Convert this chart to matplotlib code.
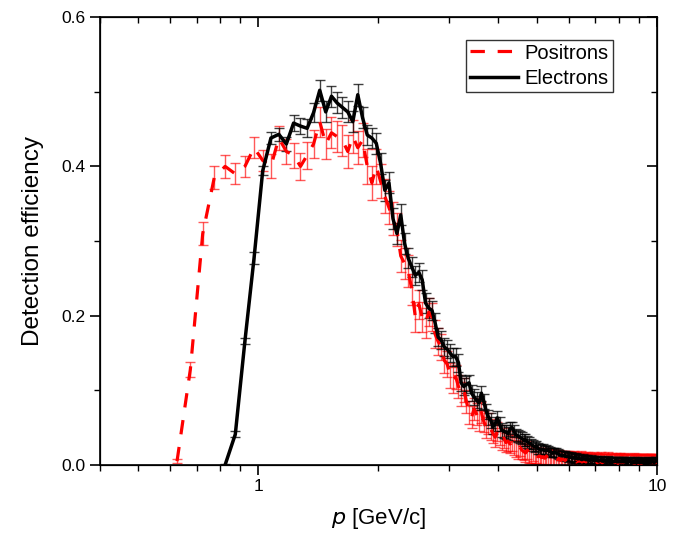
import numpy as np
import matplotlib
matplotlib.use('Agg')
import matplotlib.pyplot as plt
from matplotlib.ticker import FixedLocator, NullFormatter, MultipleLocator, LogLocator

plt.rcParams['font.family'] = ['Liberation Sans', 'DejaVu Sans']

# Binning en impulsion (largeur 0.05 GeV/c)
p_bin = 0.05
p0_pos = 0.625   # premier centre de bin, positrons
p0_ele = 0.825   # premier centre de bin, electrons

# Efficacite positrons
eff_pos = [0.005, 0.128, 0.310, 0.385, 0.400, 0.390, 0.400, 0.425, 0.408, 0.400,
           0.438, 0.420, 0.415, 0.400, 0.415, 0.430, 0.460, 0.430, 0.445, 0.440,
           0.435, 0.420, 0.440, 0.425, 0.435, 0.400, 0.378, 0.400, 0.380, 0.360,
           0.345, 0.330, 0.315, 0.280, 0.270, 0.260, 0.235, 0.198, 0.215, 0.198,
           0.190, 0.205, 0.198, 0.175, 0.165, 0.158, 0.140, 0.135, 0.120, 0.114,
           0.118, 0.105, 0.095, 0.100, 0.085, 0.070, 0.064, 0.075, 0.068, 0.060,
           0.070, 0.058, 0.050, 0.055, 0.048, 0.042, 0.037, 0.045, 0.040, 0.033,
           0.036, 0.030, 0.032, 0.028, 0.030, 0.025, 0.022, 0.020, 0.024, 0.020,
           0.018, 0.016, 0.020, 0.015, 0.014, 0.016, 0.012, 0.013, 0.011, 0.012,
           0.010, 0.011, 0.009, 0.012, 0.008, 0.010, 0.009, 0.007, 0.010, 0.008,
           0.007, 0.009, 0.006, 0.008, 0.007, 0.006, 0.008, 0.005, 0.007, 0.006,
           0.005, 0.007, 0.006, 0.004, 0.006, 0.005, 0.007, 0.004, 0.005, 0.006,
           0.004, 0.005, 0.006, 0.003, 0.005, 0.004, 0.006, 0.004, 0.005, 0.003,
           0.005, 0.004, 0.006, 0.003, 0.004, 0.005, 0.003, 0.004, 0.006, 0.003,
           0.004, 0.003, 0.005, 0.004, 0.003, 0.005, 0.004, 0.002, 0.004, 0.005,
           0.003, 0.004, 0.003, 0.005, 0.002, 0.004, 0.003, 0.004, 0.002, 0.003,
           0.004, 0.003, 0.005, 0.002, 0.003, 0.004, 0.003, 0.002, 0.004, 0.003,
           0.002, 0.004, 0.003, 0.003, 0.002, 0.004, 0.003, 0.002, 0.003, 0.004,
           0.002, 0.003, 0.003, 0.002, 0.004, 0.002, 0.003, 0.002]
err_pos = [0.003, 0.010, 0.015, 0.015, 0.015, 0.014, 0.014, 0.014, 0.014, 0.016,
           0.016, 0.017, 0.017, 0.018, 0.018, 0.019, 0.020, 0.020, 0.021, 0.021,
           0.021, 0.022, 0.022, 0.022, 0.023, 0.023, 0.023, 0.023, 0.023, 0.023,
           0.022, 0.022, 0.022, 0.022, 0.021, 0.021, 0.021, 0.020, 0.020, 0.020,
           0.020, 0.019, 0.019, 0.019, 0.018, 0.018, 0.017, 0.017, 0.017, 0.017,
           0.016, 0.016, 0.016, 0.016, 0.015, 0.015, 0.015, 0.015, 0.015, 0.014,
           0.014, 0.014, 0.014, 0.014, 0.014, 0.013, 0.013, 0.013, 0.013, 0.013,
           0.013, 0.013, 0.013, 0.012, 0.012, 0.012, 0.012, 0.012, 0.012, 0.012,
           0.012, 0.012, 0.012, 0.012, 0.012, 0.011, 0.011, 0.011, 0.011, 0.011,
           0.011, 0.011, 0.011, 0.011, 0.011, 0.011, 0.011, 0.011, 0.011, 0.011,
           0.011, 0.011, 0.011, 0.011, 0.011, 0.011, 0.011, 0.011, 0.011, 0.011,
           0.011, 0.011, 0.011, 0.011, 0.011, 0.011, 0.011, 0.011, 0.011, 0.011,
           0.011, 0.011, 0.011, 0.011, 0.011, 0.011, 0.011, 0.011, 0.011, 0.011,
           0.011, 0.011, 0.011, 0.011, 0.011, 0.011, 0.011, 0.011, 0.011, 0.011,
           0.011, 0.011, 0.011, 0.011, 0.011, 0.011, 0.011, 0.011, 0.011, 0.011,
           0.011, 0.011, 0.011, 0.011, 0.011, 0.011, 0.011, 0.011, 0.011, 0.011,
           0.011, 0.011, 0.011, 0.011, 0.011, 0.011, 0.011, 0.011, 0.011, 0.011,
           0.011, 0.011, 0.011, 0.011, 0.011, 0.011, 0.011, 0.011, 0.011, 0.011,
           0.011, 0.011, 0.011, 0.011, 0.011, 0.011, 0.011, 0.011]

# Efficacite electrons
eff_ele = [0.000, 0.041, 0.166, 0.277, 0.394, 0.438, 0.443, 0.430, 0.458, 0.454,
           0.451, 0.472, 0.502, 0.473, 0.494, 0.485, 0.479, 0.473, 0.460, 0.496,
           0.465, 0.442, 0.438, 0.431, 0.404, 0.368, 0.378, 0.330, 0.310, 0.335,
           0.297, 0.277, 0.265, 0.254, 0.258, 0.248, 0.217, 0.210, 0.207, 0.190,
           0.171, 0.167, 0.158, 0.155, 0.150, 0.145, 0.145, 0.137, 0.110, 0.105,
           0.108, 0.110, 0.096, 0.091, 0.087, 0.083, 0.096, 0.085, 0.072, 0.064,
           0.060, 0.051, 0.055, 0.063, 0.055, 0.047, 0.045, 0.044, 0.042, 0.048,
           0.050, 0.045, 0.040, 0.039, 0.037, 0.036, 0.033, 0.034, 0.031, 0.029,
           0.028, 0.026, 0.024, 0.025, 0.022, 0.021, 0.020, 0.021, 0.019, 0.020,
           0.020, 0.018, 0.017, 0.016, 0.017, 0.016, 0.015, 0.014, 0.013, 0.013,
           0.012, 0.013, 0.011, 0.011, 0.010, 0.011, 0.009, 0.010, 0.009, 0.010,
           0.008, 0.009, 0.008, 0.007, 0.009, 0.008, 0.007, 0.008, 0.007, 0.006,
           0.008, 0.007, 0.006, 0.007, 0.006, 0.007, 0.005, 0.006, 0.007, 0.005,
           0.006, 0.005, 0.006, 0.005, 0.007, 0.005, 0.004, 0.006, 0.005, 0.004,
           0.005, 0.006, 0.004, 0.005, 0.004, 0.005, 0.004, 0.006, 0.004, 0.005,
           0.004, 0.005, 0.003, 0.004, 0.005, 0.004, 0.003, 0.004, 0.005, 0.003,
           0.004, 0.003, 0.005, 0.004, 0.003, 0.004, 0.003, 0.005, 0.004, 0.003,
           0.004, 0.003, 0.004, 0.005, 0.003, 0.004, 0.003, 0.004, 0.005, 0.004,
           0.003, 0.004, 0.005, 0.006]
err_ele = [0.001, 0.004, 0.004, 0.008, 0.006, 0.008, 0.009, 0.010, 0.011, 0.011,
           0.012, 0.013, 0.014, 0.014, 0.014, 0.014, 0.014, 0.014, 0.014, 0.015,
           0.014, 0.014, 0.014, 0.014, 0.014, 0.014, 0.014, 0.014, 0.014, 0.014,
           0.014, 0.013, 0.013, 0.013, 0.013, 0.013, 0.013, 0.013, 0.013, 0.013,
           0.012, 0.012, 0.012, 0.012, 0.012, 0.012, 0.012, 0.012, 0.011, 0.011,
           0.011, 0.011, 0.011, 0.011, 0.011, 0.010, 0.010, 0.010, 0.010, 0.010,
           0.010, 0.009, 0.009, 0.009, 0.009, 0.009, 0.009, 0.009, 0.009, 0.009,
           0.008, 0.008, 0.008, 0.008, 0.008, 0.008, 0.008, 0.008, 0.008, 0.008,
           0.007, 0.007, 0.007, 0.007, 0.007, 0.007, 0.007, 0.007, 0.007, 0.007,
           0.006, 0.006, 0.006, 0.006, 0.006, 0.006, 0.006, 0.006, 0.006, 0.006,
           0.006, 0.006, 0.006, 0.006, 0.006, 0.006, 0.006, 0.006, 0.006, 0.006,
           0.005, 0.005, 0.005, 0.005, 0.005, 0.005, 0.005, 0.005, 0.005, 0.005,
           0.005, 0.005, 0.005, 0.005, 0.005, 0.005, 0.005, 0.005, 0.005, 0.005,
           0.005, 0.005, 0.005, 0.005, 0.005, 0.005, 0.005, 0.005, 0.005, 0.005,
           0.005, 0.005, 0.005, 0.005, 0.005, 0.005, 0.005, 0.005, 0.005, 0.005,
           0.005, 0.005, 0.005, 0.005, 0.005, 0.005, 0.005, 0.005, 0.005, 0.005,
           0.005, 0.005, 0.005, 0.005, 0.005, 0.005, 0.005, 0.005, 0.005, 0.005,
           0.005, 0.005, 0.005, 0.005, 0.005, 0.005, 0.005, 0.005, 0.005, 0.005,
           0.005, 0.005, 0.005, 0.005]

p_pos = p0_pos + p_bin * np.arange(len(eff_pos))
p_ele = p0_ele + p_bin * np.arange(len(eff_ele))

fig = plt.figure(figsize=(6.74, 5.35), dpi=100)
ax = fig.add_axes([0.148, 0.131, 0.827, 0.837])

# Barres d'erreur
ax.errorbar(p_pos, eff_pos, yerr=err_pos, fmt='none', ecolor='red', alpha=0.65,
            elinewidth=1.0, capsize=3.5, capthick=1.0, zorder=2)
ax.errorbar(p_ele, eff_ele, yerr=err_ele, fmt='none', ecolor='black', alpha=0.75,
            elinewidth=1.0, capsize=3.5, capthick=1.0, zorder=3)
# Courbes
ax.plot(p_pos, eff_pos, color='red', lw=2.3, linestyle=(0, (4.5, 4)), label='Positrons', zorder=4)
ax.plot(p_ele, eff_ele, color='black', lw=2.5, label='Electrons', zorder=5)

ax.set_xscale('log')
ax.set_xlim(0.4, 10)
ax.set_ylim(0, 0.6)
ax.xaxis.set_major_locator(FixedLocator([1, 10]))
ax.xaxis.set_major_formatter(matplotlib.ticker.FixedFormatter(['1', '10']))
ax.xaxis.set_minor_locator(LogLocator(base=10, subs=np.arange(2, 10)))
ax.xaxis.set_minor_formatter(NullFormatter())
ax.yaxis.set_major_locator(MultipleLocator(0.2))
ax.yaxis.set_minor_locator(MultipleLocator(0.1))
ax.yaxis.set_major_formatter(matplotlib.ticker.FormatStrFormatter('%.1f'))
ax.tick_params(which='major', direction='out', length=7, width=1.2, labelsize=12.5)
ax.tick_params(which='minor', direction='out', length=4, width=1.0)
for s in ax.spines.values():
    s.set_linewidth(1.2)

# Graduations interieures en haut et a droite
axt = ax.twiny()
axt.set_xscale('log')
axt.set_xlim(ax.get_xlim())
axt.xaxis.set_major_locator(FixedLocator([1, 10]))
axt.xaxis.set_minor_locator(LogLocator(base=10, subs=np.arange(2, 10)))
axt.tick_params(which='both', direction='in', labeltop=False)
axt.tick_params(which='major', length=7, width=1.2)
axt.tick_params(which='minor', length=4, width=1.0)
axr = ax.twinx()
axr.set_ylim(ax.get_ylim())
axr.yaxis.set_major_locator(MultipleLocator(0.2))
axr.yaxis.set_minor_locator(MultipleLocator(0.1))
axr.tick_params(which='both', direction='in', labelright=False)
axr.tick_params(which='major', length=7, width=1.2)
axr.tick_params(which='minor', length=4, width=1.0)

ax.set_xlabel(r'$p$ [GeV/c]', fontsize=16, labelpad=8)
ax.set_ylabel('Detection efficiency', fontsize=17.5, labelpad=12)

leg = ax.legend(loc='upper right', bbox_to_anchor=(0.92, 0.95), fontsize=14.5, frameon=True,
                fancybox=False, edgecolor='black', handlelength=2.4, handletextpad=0.3,
                borderpad=0.2, labelspacing=0.3, borderaxespad=0)
leg.get_frame().set_linewidth(1.0)

fig.savefig('out.png', dpi=100)
